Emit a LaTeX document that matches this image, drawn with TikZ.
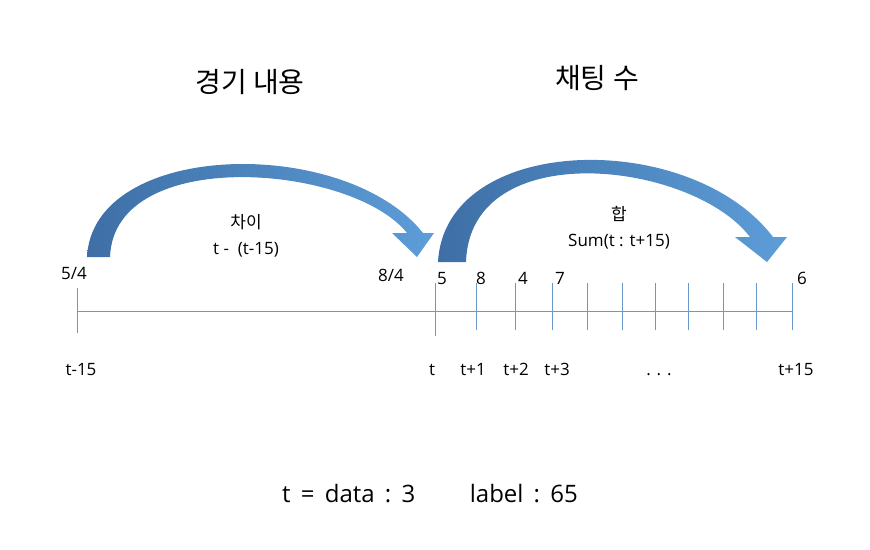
\documentclass[tikz,border=0pt]{standalone}
\usepackage{fontspec}
\setmainfont{Open Sans}
\newfontfamily\krfont{Noto Sans CJK KR}
\definecolor{arcdark}{RGB}{62,111,166}
\definecolor{arclight}{RGB}{93,157,216}
\definecolor{axisblue}{RGB}{104,152,204}

\begin{document}
\begin{tikzpicture}[x=1pt,y=-1pt,
	axisline/.style={axisblue,line width=0.8pt},
	bigarc/.style={left color=arcdark,right color=arclight},
	ticklbl/.style={anchor=base,inner sep=0pt,font=\fontsize{17}{20}\selectfont},
	midlbl/.style={align=center,inner sep=0pt,font=\fontsize{17}{26}\selectfont},
	titlelbl/.style={inner sep=0pt,font=\krfont\fontsize{28}{32}\selectfont}]
	\useasboundingbox (0,0) rectangle (870,549);

	% titles
	\node[titlelbl] (match) at (250,82) {경기 내용};
	\node[titlelbl] (chat) at (597,78) {채팅 수};

	% curved arrows
	\shade[bigarc] (87,257) .. controls (93,140) and (345,135) .. (423,233) -- (434,233) -- (417,257) -- (392,233) -- (407,233) .. controls (352,164) and (114,145) .. (110,257) -- cycle;
	\shade[bigarc] (438,262) .. controls (445,133) and (690,128) .. (773,237) -- (787,237) -- (767,262) -- (735,237) -- (750,237) .. controls (692,161) and (470,135) .. (466,262) -- cycle;

	\node[midlbl] (diff) at (246,236) {{\krfont 차이}\\t -\ \ (t-15)};
	\node[midlbl] (sum) at (619,228) {{\krfont 합}\\Sum(t : t+15)};

	% time axis
	\coordinate (start) at (77,311);
	\coordinate (end) at (792,311);
	\draw[axisline] (start) -- (end);
	\foreach \x/\a/\b in {77/288/333,435/283/336,476/283/330,515/283/330,552/283/330,587/283/330,622/283/330,655/283/330,688/283/330,723/283/330,756/283/330,792/283/330} {
		\draw[axisline] (\x,\a) -- (\x,\b);
	}

	% values above
	\node[ticklbl] (v0) at (74,279) {5/4};
	\node[ticklbl] (v1) at (391,281) {8/4};
	\foreach \x/\v [count=\i from 2] in {442/5,481/8,523/4,560/7,802/6} {
		\node[ticklbl] (v\i) at (\x,284) {\v};
	}

	% times below
	\foreach \x/\t [count=\i] in {81/t-15,432/t,473/t+1,516/t+2,557/t+3,659/. . .,796/t+15} {
		\node[ticklbl] (t\i) at (\x,375) {\t};
	}

	\node[anchor=base west,inner sep=0pt,font=\fontsize{24}{28}\selectfont] (note) at (282,502) {t\,\ =\ \,data\ \,:\ \,3};
	\node[anchor=base east,inner sep=0pt,font=\fontsize{24}{28}\selectfont] (lbl) at (578,502) {label\ \,:\ \,65};
\end{tikzpicture}
\end{document}
